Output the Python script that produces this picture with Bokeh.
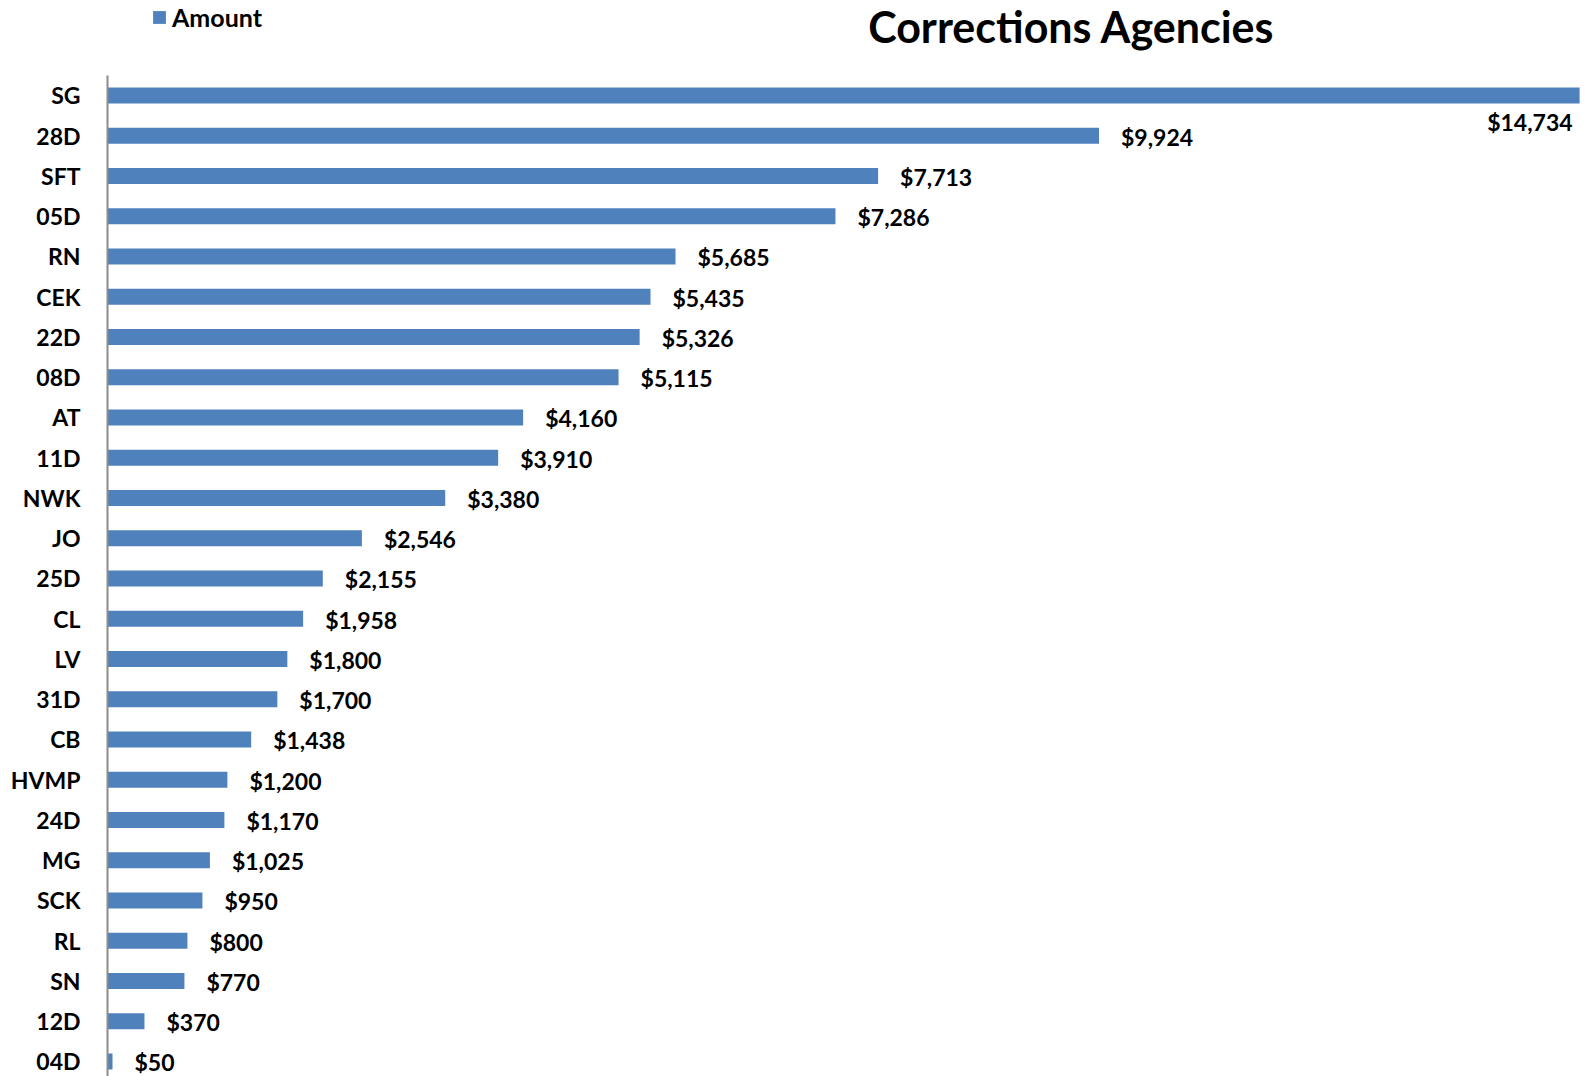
from bokeh.plotting import figure
from bokeh.models import ColumnDataSource, Range1d, FixedTicker, Label, Legend, LegendItem
from bokeh.embed import file_html
from bokeh.resources import INLINE
from bokeh.core.properties import value

agencies = ["SG", "28D", "SFT", "05D", "RN", "CEK", "22D", "08D", "AT", "11D", "NWK", "JO",
            "25D", "CL", "LV", "31D", "CB", "HVMP", "24D", "MG", "SCK", "RL", "SN", "12D", "04D"]
amounts = [14734, 9924, 7713, 7286, 5685, 5435, 5326, 5115, 4160, 3910, 3380, 2546,
           2155, 1958, 1800, 1700, 1438, 1200, 1170, 1025, 950, 800, 770, 370, 50]
title_text = "Corrections Agencies"
series_name = "Amount"

n = len(agencies)
ypos = [n - 1 - i for i in range(n)]
labels = ["${:,}".format(a) for a in amounts]
vmax = max(amounts)

src = ColumnDataSource(dict(y=ypos, amount=amounts, agency=agencies, label=labels))
out_idx = [i for i in range(n) if amounts[i] < vmax]
in_idx = [i for i in range(n) if amounts[i] >= vmax]
src_out = ColumnDataSource(dict(y=[ypos[i] for i in out_idx], amount=[amounts[i] for i in out_idx],
                                label=[labels[i] for i in out_idx]))
src_in = ColumnDataSource(dict(y=[ypos[i] for i in in_idx], amount=[amounts[i] for i in in_idx],
                               label=[labels[i] for i in in_idx]))

FONT = "Lato"
BLUE = "#4F81BD"
W, H = 1585, 1076
LEFT = 107
y_start = -0.373
y_end = n - 1 + 2.36

p = figure(width=W, height=H, output_backend="svg", toolbar_location=None,
           x_range=Range1d(0, 14793), y_range=Range1d(y_start, y_end),
           x_axis_location=None, min_border_left=LEFT, min_border_right=0,
           min_border_top=0, min_border_bottom=0)
p.outline_line_color = None
p.xgrid.visible = False
p.ygrid.visible = False
p.background_fill_color = "white"
p.border_fill_color = "white"

r = p.hbar(y="y", right="amount", left=0, height=0.4, source=src, fill_color=BLUE, line_color=None)

p.text(x="amount", y="y", text="label", source=src_out, x_offset=22, y_offset=1,
       text_align="left", text_baseline="middle", text_font=value(FONT), text_font_style="bold",
       text_font_size="23px", text_color="black")
p.text(x="amount", y="y", text="label", source=src_in, x_offset=-7, y_offset=27,
       text_align="right", text_baseline="middle", text_font=value(FONT), text_font_style="bold",
       text_font_size="23px", text_color="black")

ax = p.yaxis[0]
ax.ticker = FixedTicker(ticks=ypos)
ax.major_label_overrides = {y: a for y, a in zip(ypos, agencies)}
ax.bounds = (y_start, n - 0.5)
ax.major_tick_line_color = None
ax.minor_tick_line_color = None
ax.axis_line_color = "#8C8C8C"
ax.axis_line_width = 2
ax.major_label_standoff = 21
ax.major_label_text_font = FONT
ax.major_label_text_font_style = "bold"
ax.major_label_text_font_size = "23px"
ax.major_label_text_color = "black"

legend = Legend(items=[LegendItem(label=series_name, renderers=[r])], location=(44, H - 32),
                orientation="horizontal", padding=0, margin=0, spacing=0,
                border_line_color=None, background_fill_alpha=0,
                glyph_width=16, glyph_height=16, label_standoff=5,
                label_text_font=FONT, label_text_font_style="bold", label_text_font_size="25px",
                label_text_color="black")
p.add_layout(legend, "center")

title = Label(x=964, y=H - 26, x_units="screen", y_units="screen", text=title_text,
              text_align="center", text_baseline="alphabetic", text_font=FONT,
              text_font_style="bold", text_font_size="43px", text_color="black")
p.add_layout(title)

open("out.html", "w").write(file_html(p, INLINE))
